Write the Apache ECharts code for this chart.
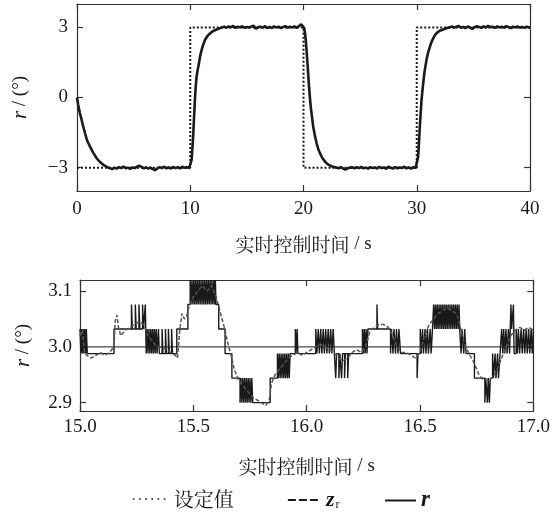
<!DOCTYPE html>
<html><head><meta charset="utf-8">
<script src="https://cdn.jsdelivr.net/npm/echarts@6/dist/echarts.min.js"></script>
<style>html,body{margin:0;padding:0;background:#fff}#c{width:553px;height:512px}</style>
</head><body><div id="c"></div>
<script>
// ---------- DATA ----------
const xNameCJK = "实时控制时间";
const xNameUnit = " / s";
const topXTicks = ['0', '10', '20', '30', '40'];
const topYSteps = ['-4', '-3', '-2', '-1', '0', '1', '2', '3', '4'];
const topYShown = ['-3', '0', '3'];
const botXTicks = ['15.0', '15.5', '16.0', '16.5', '17.0'];
const botYRange = [2.885, 3.120];
const botYShown = ['2.900', '3.000', '3.100'];
const legendNames = ["设定值", "zr", "r"];

// top panel: setpoint (step signal)
const topSet = [[0,-3],[10,-3],[10,3],[20,3],[20,-3],[30,-3],[30,3],[40,3]];
// top panel: measured r
const topR = [
 [0,0],[0.1,-0.3],[0.25,-0.65],[0.41,-0.96],[0.55,-1.25],[0.71,-1.53],[0.9,-1.85],[1.15,-2.10],[1.45,-2.38],[1.74,-2.60],[2.03,-2.76],[2.32,-2.88],[2.6,-2.96],[2.91,-3.03],
 [3.1,-3.06],[3.3,-3.01],[3.5,-3.04],[3.7,-2.98],[3.9,-3.02],[4.1,-2.95],[4.3,-3.03],[4.5,-3.0],[4.7,-3.05],[4.9,-2.99],[5.1,-3.02],[5.3,-2.96],[5.5,-2.92],[5.7,-2.97],[5.9,-3.03],[6.1,-2.99],[6.3,-3.04],[6.5,-3.0],[6.7,-3.06],[6.9,-3.11],[7.1,-3.03],[7.3,-2.98],[7.5,-3.02],[7.7,-2.96],[7.9,-3.03],[8.1,-2.99],[8.3,-3.04],[8.5,-2.97],[8.7,-3.02],[8.9,-2.98],[9.1,-3.03],[9.3,-2.96],[9.5,-3.01],[9.7,-2.98],[9.9,-3.02],[10.03,-2.99],
 [10.12,-2.67],[10.2,-2.1],[10.27,-1.53],[10.34,-0.8],[10.41,-0.11],[10.48,0.45],[10.56,0.89],[10.66,1.2],[10.77,1.46],[10.88,1.78],[11.0,2.03],[11.15,2.27],[11.3,2.46],[11.5,2.62],[11.74,2.74],[12.0,2.84],[12.33,2.91],[12.7,2.98],[13.0,3.03],
 [13.2,2.99],[13.4,3.04],[13.6,3.01],[13.8,3.06],[14.0,2.98],[14.2,3.03],[14.4,3.0],[14.6,3.05],[14.8,2.98],[15.0,3.02],[15.2,2.99],[15.4,3.04],[15.6,3.07],[15.8,2.94],[16.0,3.01],[16.2,3.03],[16.4,2.99],[16.6,3.05],[16.8,2.97],[17.0,3.02],[17.2,2.98],[17.4,3.04],[17.6,3.0],[17.8,3.03],[18.0,2.97],[18.2,3.02],[18.4,3.05],[18.6,2.99],[18.8,3.03],[19.0,3.0],[19.2,3.04],[19.4,2.98],[19.6,3.06],[19.8,3.13],[19.95,3.05],
 [20.05,2.98],[20.12,2.81],[20.2,2.45],[20.27,2.03],[20.34,1.55],[20.41,1.03],[20.48,0.52],[20.56,0.03],[20.63,-0.35],[20.71,-0.68],[20.86,-1.25],[21.0,-1.62],[21.16,-1.96],[21.3,-2.2],[21.45,-2.38],[21.65,-2.58],[21.89,-2.74],[22.1,-2.84],[22.33,-2.91],[22.6,-2.96],[22.92,-3.0],
 [23.1,-3.03],[23.3,-2.98],[23.5,-3.04],[23.7,-3.08],[23.8,-3.12],[23.95,-3.02],[24.1,-3.05],[24.3,-2.99],[24.5,-3.03],[24.7,-2.98],[24.9,-3.02],[25.1,-2.97],[25.3,-3.03],[25.5,-3.0],[25.7,-3.04],[25.9,-2.98],[26.1,-3.02],[26.3,-2.99],[26.5,-3.04],[26.7,-2.97],[26.9,-3.02],[27.1,-2.99],[27.3,-3.05],[27.5,-2.96],[27.7,-3.01],[27.9,-3.04],[28.1,-2.98],[28.3,-3.03],[28.5,-2.99],[28.7,-3.02],[28.9,-2.96],[29.1,-3.03],[29.3,-2.99],[29.5,-3.04],[29.7,-2.98],[29.9,-3.02],[30.05,-2.97],
 [30.12,-2.53],[30.2,-1.9],[30.27,-1.25],[30.35,-0.65],[30.42,-0.11],[30.5,0.28],[30.57,0.61],[30.64,0.92],[30.71,1.18],[30.86,1.60],[31.0,1.92],[31.16,2.17],[31.3,2.37],[31.45,2.53],[31.65,2.7],[31.89,2.81],[32.1,2.87],[32.33,2.91],[32.6,2.96],[32.92,3.0],
 [33.1,3.04],[33.3,2.99],[33.5,3.03],[33.7,3.06],[33.9,2.98],[34.1,3.02],[34.3,2.97],[34.5,3.04],[34.7,3.0],[34.9,2.93],[35.1,3.01],[35.3,3.05],[35.5,3.02],[35.7,2.98],[35.9,3.04],[36.1,3.0],[36.3,3.06],[36.5,3.01],[36.7,3.03],[36.9,2.98],[37.1,3.04],[37.3,3.0],[37.5,3.03],[37.7,2.99],[37.9,3.05],[38.1,3.01],[38.3,2.97],[38.5,3.03],[38.7,3.0],[38.9,3.04],[39.1,2.99],[39.3,3.02],[39.5,2.98],[39.7,3.03],[39.9,3.0],[40,3.01]
];

// bottom panel: setpoint
const botSet = [[15,3.0],[17,3.0]];
// bottom panel: quantised r (sample-and-hold, value holds until next time)
const botR = [
 [15.000,3.032],[15.004,2.988],[15.007,3.032],[15.011,2.988],[15.014,3.032],[15.018,2.988],[15.021,3.032],[15.025,2.988],[15.028,3.032],[15.032,2.988],
 [15.150,3.032],
 [15.227,3.076],[15.231,3.032],[15.244,3.076],[15.248,3.032],[15.260,3.076],[15.264,3.032],[15.276,3.076],[15.280,3.032],[15.288,3.076],[15.292,2.988],
 [15.296,3.032],[15.300,2.988],[15.304,3.032],[15.308,2.988],[15.312,3.032],[15.316,2.988],[15.320,3.032],[15.324,2.988],[15.328,3.032],[15.332,2.988],[15.336,3.032],[15.340,2.988],
 [15.346,3.032],[15.350,2.988],[15.362,3.032],[15.366,2.988],[15.377,3.032],[15.381,2.988],[15.390,3.032],[15.394,2.988],[15.404,3.032],[15.408,2.988],
 [15.427,3.032],[15.476,3.076],
 [15.486,3.120],[15.490,3.076],[15.494,3.120],[15.498,3.076],[15.502,3.120],[15.506,3.076],[15.510,3.120],[15.514,3.076],[15.518,3.120],[15.522,3.076],[15.526,3.120],[15.530,3.076],[15.534,3.120],[15.538,3.076],[15.542,3.120],[15.546,3.076],[15.550,3.120],[15.554,3.076],[15.558,3.120],[15.562,3.076],[15.566,3.120],[15.570,3.076],[15.574,3.120],[15.578,3.076],[15.582,3.120],[15.586,3.076],[15.590,3.120],[15.594,3.076],[15.597,3.120],[15.600,3.076],
 [15.612,3.032],[15.640,2.988],[15.670,2.944],
 [15.706,2.900],[15.710,2.944],[15.714,2.900],[15.718,2.944],[15.722,2.900],[15.726,2.944],[15.730,2.900],[15.734,2.944],[15.738,2.900],[15.742,2.944],[15.746,2.900],[15.750,2.944],[15.754,2.900],[15.758,2.944],[15.762,2.900],
 [15.839,2.944],
 [15.871,2.988],[15.875,2.944],[15.879,2.988],[15.883,2.944],[15.887,2.988],[15.891,2.944],[15.895,2.988],[15.899,2.944],[15.903,2.988],[15.907,2.944],[15.911,2.988],[15.915,2.944],[15.919,2.988],[15.923,2.944],[15.927,2.988],
 [15.950,3.032],[15.953,2.988],[15.958,3.032],[15.961,2.988],
 [16.040,3.032],[16.045,2.988],[16.051,3.032],[16.056,2.988],[16.062,3.032],[16.067,2.988],[16.073,3.032],[16.078,2.988],[16.084,3.032],[16.089,2.988],[16.095,3.032],[16.100,2.988],[16.106,3.032],[16.111,2.988],[16.117,3.032],[16.122,2.988],
 [16.128,2.944],[16.132,2.988],[16.142,2.944],[16.146,2.988],[16.154,2.944],[16.158,2.988],[16.167,2.944],[16.171,2.988],[16.181,2.944],[16.185,2.988],
 [16.246,3.032],[16.250,2.988],[16.254,3.032],[16.258,2.988],[16.262,3.032],[16.266,2.988],[16.270,3.032],
 [16.310,3.076],[16.313,3.032],
 [16.370,2.988],[16.374,3.032],[16.381,2.988],[16.385,3.032],[16.392,2.988],[16.396,3.032],[16.403,2.988],[16.407,3.032],[16.414,2.988],
 [16.487,2.944],[16.491,2.988],
 [16.501,3.032],[16.505,2.988],[16.511,3.032],[16.515,2.988],[16.522,3.032],[16.526,2.988],[16.533,3.032],[16.537,2.988],[16.545,3.032],[16.549,2.988],[16.555,3.032],
 [16.560,3.076],[16.564,3.032],[16.568,3.076],[16.572,3.032],[16.576,3.076],[16.580,3.032],[16.584,3.076],[16.588,3.032],[16.592,3.076],[16.596,3.032],[16.600,3.076],[16.604,3.032],[16.608,3.076],[16.612,3.032],[16.616,3.076],[16.620,3.032],[16.624,3.076],[16.628,3.032],[16.632,3.076],[16.636,3.032],[16.640,3.076],[16.644,3.032],[16.648,3.076],[16.652,3.032],[16.656,3.076],[16.660,3.032],[16.664,3.076],[16.668,3.032],[16.672,3.076],[16.675,3.032],
 [16.681,2.988],[16.685,3.032],[16.693,2.988],[16.697,3.032],[16.703,2.988],
 [16.740,2.944],
 [16.786,2.900],[16.790,2.944],[16.797,2.900],[16.801,2.944],[16.806,2.900],[16.810,2.944],
 [16.820,2.988],[16.824,2.944],[16.831,2.988],[16.835,2.944],[16.842,2.988],[16.846,2.944],[16.853,2.988],
 [16.860,3.032],[16.865,2.988],[16.869,3.032],[16.874,2.988],[16.879,3.032],[16.884,2.988],[16.890,3.032],[16.895,2.988],[16.901,3.076],[16.904,3.032],[16.912,3.076],[16.915,2.988],[16.924,3.032],[16.929,2.988],[16.934,3.032],[16.939,2.988],[16.946,3.032],[16.951,2.988],[16.957,3.032],[16.962,2.988],[16.968,3.032],[16.973,2.988],[16.979,3.032],[16.984,2.988],[16.990,3.032],[16.995,2.988],[17.0,3.032]
];
// bottom panel: estimate z_r
const botZ = [
 [15.0,3.02],[15.01,3.03],[15.02,2.99],[15.03,2.985],[15.05,2.98],[15.07,2.985],[15.09,2.99],[15.11,2.985],[15.13,2.99],[15.15,3.0],[15.155,3.045],[15.163,3.057],[15.17,3.035],[15.18,3.02],[15.19,3.025],[15.2,3.03],[15.22,3.035],[15.24,3.04],[15.26,3.045],[15.28,3.04],[15.29,3.03],[15.3,3.02],[15.32,3.01],[15.34,3.0],[15.36,3.0],[15.38,2.995],[15.4,2.99],[15.42,2.985],[15.43,2.98],[15.44,3.03],[15.45,3.06],[15.46,3.05],[15.47,3.055],[15.48,3.07],[15.5,3.09],[15.52,3.1],[15.54,3.11],[15.56,3.1],[15.58,3.11],[15.6,3.09],[15.61,3.075],[15.62,3.06],[15.63,3.045],[15.64,3.03],[15.65,3.01],[15.66,2.995],[15.67,2.98],[15.68,2.96],[15.69,2.95],[15.7,2.94],[15.72,2.93],[15.74,2.92],[15.76,2.91],[15.78,2.905],[15.8,2.9],[15.82,2.895],[15.835,2.905],[15.845,2.935],[15.86,2.95],[15.88,2.96],[15.9,2.97],[15.92,2.98],[15.94,2.985],[15.96,2.99],[15.98,2.985],[16.0,2.99],[16.02,2.995],[16.04,3.0],[16.06,3.005],[16.08,3.0],[16.1,2.995],[16.12,2.99],[16.14,2.98],[16.16,2.975],[16.18,2.98],[16.2,2.99],[16.22,2.995],[16.24,2.99],[16.26,3.0],[16.28,3.03],[16.3,3.035],[16.32,3.04],[16.34,3.04],[16.36,3.035],[16.38,3.02],[16.4,3.0],[16.42,2.99],[16.44,2.99],[16.46,2.985],[16.48,2.98],[16.5,2.99],[16.52,3.02],[16.54,3.04],[16.56,3.05],[16.58,3.06],[16.6,3.065],[16.62,3.07],[16.64,3.065],[16.66,3.06],[16.67,3.05],[16.68,3.03],[16.7,3.0],[16.72,2.985],[16.74,2.97],[16.76,2.95],[16.78,2.94],[16.8,2.94],[16.82,2.945],[16.84,2.96],[16.86,2.98],[16.88,3.0],[16.9,3.02],[16.92,3.03],[16.94,3.035],[16.96,3.03],[16.98,3.035],[17.0,3.03]
];

// ---------- CHART ----------
const latin = "Liberation Serif";
const cjk = "Noto Serif CJK SC";
const ink = '#1a1a1a';
const frame = '#333';
const minus = v => String(v).replace('-', '\u2212');

// bottom-panel y category steps (0.005 apart) spanning the value range, used only for labels/ticks
const botYSteps = [];
for (let k = 0; k <= 47; k++) botYSteps.push((botYRange[0] + 0.005 * k).toFixed(3));

const rich = {
  n: { fontFamily: latin, fontSize: 19, color: ink },
  c: { fontFamily: latin, fontSize: 19, color: ink },
  cj: { fontFamily: cjk, fontSize: 19, color: ink },
  i: { fontFamily: latin, fontStyle: 'italic', fontSize: 21, color: ink },
  b: { fontFamily: latin, fontStyle: 'italic', fontWeight: 'bold', fontSize: 22, color: ink },
  s: { fontFamily: latin, fontSize: 12, color: ink, padding: [9, 0, 0, 1] },
  ib: { fontFamily: latin, fontStyle: 'italic', fontWeight: 'bold', fontSize: 23, color: ink }
};
const lineS = { color: frame, width: 1.2 };
const nameStyle = { color: ink, fontFamily: latin, fontSize: 19, rich: rich };

function hiddenValue(gridIndex, min, max) {
  return { type: 'value', gridIndex, min, max, show: false, splitLine: { show: false } };
}
function catAxis(gridIndex, data, position, extra) {
  return Object.assign({
    type: 'category', gridIndex, data, position, boundaryGap: false,
    axisLine: { show: true, onZero: false, lineStyle: lineS },
    axisTick: { show: true, inside: true, length: 6, lineStyle: lineS },
    axisLabel: { show: false },
    splitLine: { show: false }
  }, extra || {});
}
const onlyTop = (i, v) => topYShown.indexOf(v) >= 0;
const onlyBot = (i, v) => botYShown.indexOf(v) >= 0;

const chart = echarts.init(document.getElementById('c'), null, { renderer: 'canvas' });
chart.setOption({
  animation: false,
  backgroundColor: '#fff',
  grid: [
    { left: 77, top: 4, width: 453, height: 187 },
    { left: 80, top: 280, width: 454, height: 131 }
  ],
  xAxis: [
    hiddenValue(0, 0, 40),
    catAxis(0, topXTicks, 'bottom', {
      axisLabel: { show: true, margin: 9, rich: rich, formatter: v => '{n|' + v + '}' },
      name: '{cj|' + xNameCJK + '}{c|' + xNameUnit + '}', nameLocation: 'middle', nameGap: 44, nameTextStyle: nameStyle }),
    catAxis(0, topXTicks, 'top'),
    hiddenValue(1, 15, 17),
    catAxis(1, botXTicks, 'bottom', {
      axisLabel: { show: true, margin: 7, rich: rich, formatter: v => '{n|' + v + '}' },
      name: '{cj|' + xNameCJK + '}{c|' + xNameUnit + '}', nameLocation: 'middle', nameGap: 46, nameTextStyle: nameStyle }),
    catAxis(1, botXTicks, 'top')
  ],
  yAxis: [
    hiddenValue(0, -4, 4),
    catAxis(0, topYSteps, 'left', {
      axisTick: { show: true, inside: true, length: 6, interval: onlyTop, lineStyle: lineS },
      axisLabel: { show: true, margin: 9, interval: onlyTop, rich: rich, formatter: v => '{n|' + minus(v) + '}' },
      name: '{i|r}{c| / (°)}', nameLocation: 'middle', nameRotate: 90, nameGap: 46, nameTextStyle: nameStyle }),
    catAxis(0, topYSteps, 'right', {
      axisTick: { show: true, inside: true, length: 6, interval: onlyTop, lineStyle: lineS } }),
    hiddenValue(1, botYRange[0], botYRange[1]),
    catAxis(1, botYSteps, 'left', {
      axisTick: { show: true, inside: true, length: 6, interval: onlyBot, lineStyle: lineS },
      axisLabel: { show: true, margin: 8, interval: onlyBot, rich: rich, formatter: v => '{n|' + Number(v).toFixed(1) + '}' },
      name: '{i|r}{c| / (°)}', nameLocation: 'middle', nameRotate: 90, nameGap: 46, nameTextStyle: nameStyle }),
    catAxis(1, botYSteps, 'right', {
      axisTick: { show: true, inside: true, length: 6, interval: onlyBot, lineStyle: lineS } })
  ],
  legend: [
    { left: 127, top: 484, itemWidth: 36, itemHeight: 14, itemGap: 0, data: [legendNames[0]],
      lineStyle: { type: [1.6, 4.6], width: 1.6, color: ink }, itemStyle: { opacity: 0 },
      formatter: n => '{cj|' + n + '}',
      textStyle: { color: ink, rich: { cj: { fontFamily: cjk, fontSize: 20, color: ink } } } },
    { left: 282, top: 484, itemWidth: 33, itemHeight: 14, itemGap: 0, data: [legendNames[1]],
      lineStyle: { type: [8, 3], width: 1.8, color: ink }, itemStyle: { opacity: 0 },
      formatter: () => '{b|z}{s|r}',
      textStyle: { color: ink, rich: rich } },
    { left: 379, top: 484, itemWidth: 31, itemHeight: 14, itemGap: 0, data: [legendNames[2]],
      lineStyle: { type: 'solid', width: 2, color: ink }, itemStyle: { opacity: 0 },
      formatter: () => '{ib|r}',
      textStyle: { color: ink, rich: rich } }
  ],
  series: [
    { name: legendNames[0], type: 'line', xAxisIndex: 0, yAxisIndex: 0, data: topSet, symbol: 'none',
      lineStyle: { color: ink, width: 2, type: [2, 2] }, z: 2 },
    { name: legendNames[2], type: 'line', xAxisIndex: 0, yAxisIndex: 0, data: topR, symbol: 'none',
      lineStyle: { color: ink, width: 2.6 }, z: 3 },
    { name: legendNames[0], type: 'line', xAxisIndex: 3, yAxisIndex: 3, data: botSet, symbol: 'none',
      lineStyle: { color: ink, width: 1 }, z: 2 },
    { name: legendNames[2], type: 'line', xAxisIndex: 3, yAxisIndex: 3, data: botR, symbol: 'none', step: 'end',
      lineStyle: { color: ink, width: 1.4 }, z: 3 },
    { name: legendNames[1], type: 'line', xAxisIndex: 3, yAxisIndex: 3, data: botZ, symbol: 'none',
      lineStyle: { color: '#555', width: 1.5, type: [4, 2] }, z: 4 }
  ]
});
</script></body></html>
